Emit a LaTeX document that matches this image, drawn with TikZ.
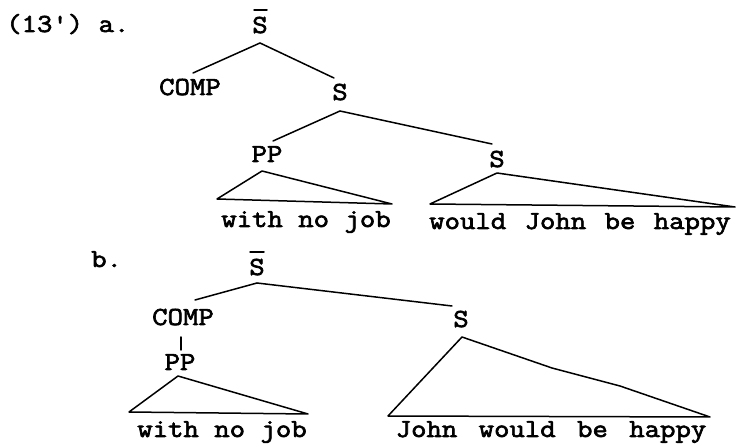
\documentclass[tikz,border=0pt]{standalone}
\usepackage{fontspec}
\setmonofont{Latin Modern Mono}[FakeStretch=1.15,FakeBold=2.5]
\begin{document}
\begin{tikzpicture}[x=1pt,y=-1pt,
  lab/.style={inner sep=0pt,anchor=base,font=\ttfamily\fontsize{26}{30}\selectfont},
  edge/.style={line width=1.5pt,line join=round,line cap=round}]
\useasboundingbox[fill=white] (0,0) rectangle (737,446);
% ---------- (a) ----------
\node[lab,anchor=base west] (numA) at (6,32) {(13') a.};
\node[lab] (sbarA) at (260,33) {S};
\draw[edge] ([shift={(-6,-23)}]sbarA.base) -- ([shift={(7,-23)}]sbarA.base);
\node[lab] (compA) at (190,95) {COMP};
\node[lab] (sA) at (340,100) {S};
\node[lab] (ppA) at (267,162) {PP};
\node[lab] (s2A) at (497,167) {S};
\node[lab] (wA) at (306,227) {with no job};
\node[lab] (jA) at (580,229) {would\hspace{3pt} John\hspace{3pt} be\hspace{3pt} happy};
\draw[edge] ([shift={(0,10)}]sbarA.base) -- ([shift={(3,-22)}]compA.base);
\draw[edge] ([shift={(0,10)}]sbarA.base) -- ([shift={(-6,-22)}]sA.base);
\draw[edge] ([shift={(0,11)}]sA.base) -- ([shift={(6,-21)}]ppA.base);
\draw[edge] ([shift={(0,11)}]sA.base) -- ([shift={(-5,-23)}]s2A.base);
\coordinate (tA1l) at (217,199);
\coordinate (tA1r) at (392,204);
\draw[edge] ([shift={(-5,9)}]ppA.base) -- (tA1l) -- (tA1r) -- cycle;
\coordinate (tA2l) at (430,204);
\coordinate (tA2r) at (735,207);
\draw[edge] ([shift={(0,6)}]s2A.base) -- (tA2l) -- (tA2r) -- cycle;
% ---------- (b) ----------
\node[lab,anchor=base west] (numB) at (91,267) {b.};
\node[lab] (sbarB) at (257,275) {S};
\draw[edge] ([shift={(-7,-23)}]sbarB.base) -- ([shift={(7,-23)}]sbarB.base);
\node[lab] (compB) at (183,325) {COMP};
\node[lab] (ppB) at (180,370) {PP};
\node[lab] (sB) at (461,327) {S};
\node[lab] (wB) at (222,437) {with no job};
\node[lab] (jB) at (551,437) {John\hspace{6pt} would\hspace{6pt} be\hspace{6pt} happy};
\draw[edge] ([shift={(0,8)}]sbarB.base) -- ([shift={(12,-25)}]compB.base);
\draw[edge] ([shift={(0,8)}]sbarB.base) -- ([shift={(-9,-21)}]sB.base);
\draw[edge] ([shift={(-2,12)}]compB.base) -- ([shift={(1,-20)}]ppB.base);
\coordinate (tB1l) at (129,412);
\coordinate (tB1r) at (308,414);
\draw[edge] ([shift={(-2,6)}]ppB.base) -- (tB1l) -- (tB1r) -- cycle;
\coordinate (tB2l) at (388,416);
\coordinate (tB2r) at (710,417);
\coordinate (tB2m1) at (552,368);
\coordinate (tB2m2) at (620,386);
\draw[edge] ([shift={(1,10)}]sB.base) -- (tB2l) -- (tB2r) -- (tB2m2) -- (tB2m1) -- cycle;
\end{tikzpicture}
\end{document}
